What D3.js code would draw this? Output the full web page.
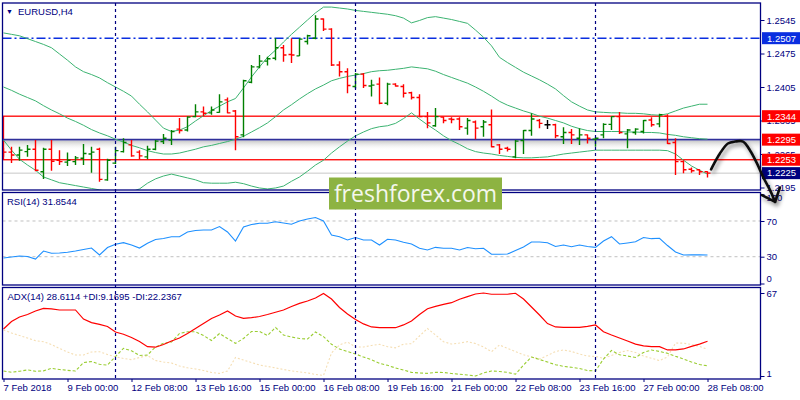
<!DOCTYPE html>
<html>
<head>
<meta charset="utf-8">
<script src="https://cdn.jsdelivr.net/npm/d3@7"></script>
<style>
  body { margin: 0; background: #fff; }
  text { font-family: "Liberation Sans", Arial, sans-serif; }
</style>
</head>
<body>
<div id="chart"></div>
<script>
// ---- data (EURUSD H4, 7 Feb 16:00 .. 28 Feb 08:00) ----
var open = [1.2273,1.2269,1.2263,1.2270,1.2275,1.2228,1.2275,1.2252,1.2248,1.2249,
  1.2256,1.2265,1.2275,1.2211,1.2246,1.2270,1.2284,1.2269,1.2259,1.2275,
  1.2291,1.2294,1.2317,1.2315,1.2343,1.2353,1.2351,1.2352,1.2378,1.2355,
  1.2305,1.2415,1.2447,1.2459,1.2465,1.2487,1.2473,1.2470,1.2500,1.2507,
  1.2547,1.2526,1.2451,1.2437,1.2406,1.2432,1.2407,1.2411,1.2371,1.2411,
  1.2406,1.2393,1.2383,1.2343,1.2324,1.2342,1.2338,1.2338,1.2319,1.2332,
  1.2322,1.2326,1.2284,1.2277,1.2259,1.2293,1.2314,1.2335,1.2326,1.2326,
  1.2301,1.2310,1.2298,1.2305,1.2296,1.2305,1.2327,1.2343,1.2307,1.2310,
  1.2312,1.2336,1.2328,1.2344,1.2289,1.2249,1.2233,1.2232,1.2228];
var high = [1.2278,1.2280,1.2280,1.2284,1.2294,1.2278,1.2294,1.2273,1.2268,1.2261,
  1.2286,1.2280,1.2278,1.2255,1.2280,1.2298,1.2294,1.2273,1.2282,1.2294,
  1.2307,1.2315,1.2340,1.2344,1.2369,1.2364,1.2364,1.2390,1.2383,1.2357,
  1.2420,1.2451,1.2472,1.2468,1.2507,1.2493,1.2507,1.2507,1.2514,1.2555,
  1.2548,1.2528,1.2459,1.2444,1.2434,1.2434,1.2420,1.2425,1.2414,1.2413,
  1.2411,1.2395,1.2390,1.2353,1.2361,1.2343,1.2342,1.2342,1.2340,1.2335,
  1.2336,1.2358,1.2286,1.2280,1.2294,1.2315,1.2350,1.2338,1.2336,1.2328,
  1.2321,1.2317,1.2319,1.2306,1.2300,1.2329,1.2344,1.2353,1.2317,1.2319,
  1.2336,1.2342,1.2349,1.2348,1.2298,1.2252,1.2237,1.2233,1.2229];
var low = [1.2259,1.2246,1.2251,1.2259,1.2229,1.2213,1.2230,1.2242,1.2240,1.2242,
  1.2242,1.2226,1.2207,1.2209,1.2244,1.2268,1.2259,1.2254,1.2254,1.2273,
  1.2286,1.2284,1.2308,1.2312,1.2342,1.2344,1.2347,1.2351,1.2350,1.2273,
  1.2300,1.2413,1.2444,1.2450,1.2461,1.2458,1.2455,1.2470,1.2494,1.2505,
  1.2522,1.2449,1.2427,1.2392,1.2402,1.2403,1.2385,1.2369,1.2367,1.2406,
  1.2383,1.2379,1.2342,1.2319,1.2322,1.2329,1.2329,1.2315,1.2305,1.2296,
  1.2301,1.2279,1.2265,1.2270,1.2256,1.2265,1.2303,1.2319,1.2317,1.2298,
  1.2286,1.2286,1.2284,1.2287,1.2280,1.2298,1.2315,1.2307,1.2277,1.2305,
  1.2308,1.2322,1.2321,1.2286,1.2221,1.2225,1.2226,1.2221,1.2216];
var close = [1.2269,1.2263,1.2273,1.2275,1.2231,1.2275,1.2250,1.2249,1.2252,1.2257,
  1.2266,1.2269,1.2212,1.2252,1.2272,1.2289,1.2261,1.2261,1.2275,1.2292,
  1.2298,1.2312,1.2314,1.2342,1.2353,1.2350,1.2357,1.2374,1.2351,1.2301,
  1.2418,1.2447,1.2459,1.2464,1.2487,1.2472,1.2472,1.2505,1.2512,1.2547,
  1.2526,1.2451,1.2437,1.2408,1.2432,1.2408,1.2409,1.2371,1.2411,1.2407,
  1.2392,1.2383,1.2343,1.2330,1.2343,1.2335,1.2337,1.2322,1.2335,1.2319,
  1.2332,1.2280,1.2275,1.2275,1.2292,1.2314,1.2338,1.2329,1.2326,1.2303,
  1.2310,1.2305,1.2305,1.2298,1.2298,1.2327,1.2343,1.2310,1.2315,1.2317,
  1.2335,1.2326,1.2347,1.2287,1.2249,1.2232,1.2230,1.2228,1.2225];

// Bollinger bands (upper / middle / lower)
var bbUpper = [1.2518,1.2515,1.2512,1.2506,1.2500,1.2494,1.2487,1.2474,1.2461,1.2447,
  1.2437,1.2431,1.2424,1.2414,1.2405,1.2396,1.2386,1.2369,1.2353,1.2336,
  1.2319,1.2312,1.2315,1.2322,1.2334,1.2345,1.2356,1.2365,1.2374,1.2381,
  1.2403,1.2426,1.2447,1.2467,1.2482,1.2499,1.2515,1.2530,1.2545,1.2560,
  1.2572,1.2572,1.2570,1.2568,1.2565,1.2563,1.2561,1.2559,1.2557,1.2554,
  1.2549,1.2539,1.2544,1.2550,1.2552,1.2549,1.2546,1.2542,1.2538,1.2524,
  1.2509,1.2491,1.2467,1.2456,1.2446,1.2436,1.2428,1.2420,1.2411,1.2401,
  1.2387,1.2374,1.2365,1.2357,1.2353,1.2352,1.2351,1.2351,1.2350,1.2350,
  1.2349,1.2347,1.2346,1.2349,1.2355,1.2361,1.2365,1.2369,1.2369];
var bbMiddle = [1.2405,1.2398,1.2390,1.2383,1.2376,1.2366,1.2357,1.2349,1.2340,1.2333,
  1.2325,1.2316,1.2309,1.2303,1.2296,1.2290,1.2283,1.2278,1.2272,1.2268,
  1.2265,1.2265,1.2267,1.2271,1.2275,1.2280,1.2283,1.2287,1.2291,1.2296,
  1.2302,1.2311,1.2320,1.2330,1.2343,1.2357,1.2368,1.2380,1.2391,1.2401,
  1.2409,1.2418,1.2423,1.2427,1.2430,1.2433,1.2437,1.2439,1.2440,1.2442,
  1.2444,1.2447,1.2445,1.2443,1.2438,1.2431,1.2425,1.2419,1.2413,1.2405,
  1.2396,1.2386,1.2375,1.2367,1.2361,1.2355,1.2350,1.2344,1.2340,1.2335,
  1.2330,1.2323,1.2318,1.2314,1.2312,1.2312,1.2312,1.2312,1.2311,1.2311,
  1.2310,1.2310,1.2309,1.2306,1.2304,1.2301,1.2299,1.2297,1.2296];
var bbLower = [1.2294,1.2273,1.2254,1.2242,1.2231,1.2217,1.2211,1.2205,1.2202,1.2199,
  1.2196,1.2193,1.2190,1.2187,1.2184,1.2183,1.2186,1.2192,1.2204,1.2213,
  1.2219,1.2223,1.2219,1.2215,1.2211,1.2205,1.2204,1.2204,1.2204,1.2206,
  1.2203,1.2198,1.2194,1.2192,1.2194,1.2198,1.2208,1.2217,1.2229,1.2242,
  1.2252,1.2267,1.2280,1.2292,1.2303,1.2311,1.2318,1.2322,1.2324,1.2329,
  1.2339,1.2351,1.2338,1.2326,1.2315,1.2303,1.2293,1.2285,1.2276,1.2270,
  1.2267,1.2265,1.2262,1.2260,1.2258,1.2257,1.2257,1.2258,1.2259,1.2262,
  1.2265,1.2267,1.2269,1.2271,1.2273,1.2273,1.2273,1.2273,1.2273,1.2273,
  1.2273,1.2273,1.2273,1.2272,1.2265,1.2252,1.2240,1.2231,1.2223];

// RSI(14)
var rsi = [28.5,29.7,30.8,30.2,27.4,36.4,33.8,34.1,35.0,36.4,
  38.1,39.7,31.9,40.3,43.9,45.7,43.1,39.7,45.0,49.3,
  50.4,52.4,52.4,57.7,59.4,59.9,59.9,63.8,57.7,47.6,
  63.3,66.1,67.4,67.4,69.2,67.8,66.3,70.0,72.2,73.9,
  70.0,54.3,52.4,48.7,51.5,48.7,48.7,43.1,49.5,48.7,
  46.2,44.2,39.5,37.5,40.5,39.4,39.4,37.5,40.3,38.9,
  39.4,32.7,32.7,33.0,37.0,40.9,46.5,46.5,45.7,41.4,
  43.1,41.2,43.1,41.4,40.5,47.6,52.4,44.2,45.4,46.8,
  51.5,50.2,50.6,42.5,35.3,31.9,32.0,32.1,31.85];

// ADX(14), +DI, -DI
var adx = [38.4,44.3,47.9,49.9,52.7,54.8,54.3,53.5,53.5,53.5,
  46.3,43.5,42.1,40.4,36.0,34.2,31.6,28.4,24.3,23.9,
  26.0,28.8,31.2,34.8,38.8,42.7,46.7,49.5,52.7,48.7,
  46.9,47.4,48.3,49.9,51.7,53.5,56.3,58.7,60.6,63.0,
  66.6,62.2,55.5,50.3,45.9,42.4,40.0,39.4,39.4,39.4,
  41.6,44.7,49.9,54.5,56.4,57.9,59.3,62.0,64.1,66.2,
  67.0,66.0,66.0,66.0,66.8,62.2,55.9,49.5,42.7,40.0,
  39.7,39.7,39.7,40.4,41.6,36.2,33.6,31.2,28.8,26.4,
  24.9,24.3,24.3,21.7,21.7,22.5,24.5,26.4,28.61];
var plusDI = [5.0,4.0,4.8,5.8,4.8,5.1,7.1,6.2,5.5,5.0,
  11.7,12.5,10.3,9.7,16.5,23.0,21.0,17.3,17.7,24.1,
  27.0,28.0,34.8,36.2,36.2,33.2,29.2,34.8,30.8,27.0,
  30.8,36.4,36.4,33.2,39.6,33.6,32.0,30.8,30.4,36.0,
  32.3,26.2,22.5,20.5,18.5,16.1,14.0,11.1,9.5,7.4,
  5.8,3.9,3.4,3.1,3.9,3.8,3.0,2.4,1.8,1.0,
  3.4,5.0,4.6,3.9,2.4,9.7,16.1,14.1,12.1,10.0,
  8.7,7.9,7.0,5.4,5.0,14.5,21.3,17.9,16.9,15.7,
  19.7,21.7,20.5,19.1,16.7,14.5,12.1,10.1,9.17];
var minusDI = [37.6,35.2,33.2,31.2,29.1,28.3,26.0,22.9,20.1,17.7,
  17.7,20.1,20.3,18.1,16.3,14.9,14.0,15.7,17.3,13.3,
  12.1,11.3,9.0,7.5,6.6,5.4,3.8,3.1,5.0,15.7,
  13.7,11.7,9.7,8.6,7.4,6.2,5.0,4.2,3.5,2.2,
  1.4,19.3,25.7,28.0,24.1,24.1,25.3,26.2,24.3,23.4,
  26.3,26.7,32.8,38.8,33.6,28.3,26.4,27.2,28.3,26.8,
  24.1,20.3,25.7,23.0,20.5,17.9,16.1,14.5,17.3,20.5,
  21.7,20.5,18.5,16.9,16.5,15.1,17.3,19.7,21.3,19.7,
  16.9,15.1,13.3,16.1,27.2,27.1,26.0,24.5,22.24];

// axis ticks and labels
var timeIdx = [0,8,16,24,32,40,48,56,64,72,80,88];
var timeLabels = ["7 Feb 2018","9 Feb 00:00","12 Feb 08:00","13 Feb 16:00","15 Feb 00:00",
  "16 Feb 08:00","19 Feb 16:00","21 Feb 00:00","22 Feb 08:00","23 Feb 16:00",
  "27 Feb 00:00","28 Feb 08:00"];
var weekIdx = [14,44,74];
var priceTicks = [1.2545,1.2475,1.2405,1.2335,1.2265,1.2195];
var rsiTicks = [100,70,30,0];
var rsiLevels = [70,30];
var adxTicks = [67,1];

// drawn objects
var zoneTop = 1.2344, zoneBottom = 1.2253;
var pivotLine = 1.2295;
var dashLine = 1.2507;
var bidPrice = 1.2225;
var markPrices = [1.2507,1.2344,1.2295,1.2253,1.2225];
var arrowIdx   = [88.45,89.55,90.55,91.45,92.45,93.3,94.2,94.95,95.8,96.45];
var arrowPrice = [1.2233,1.2266,1.2287,1.2291,1.2291,1.2273,1.2245,1.2217,1.2190,1.2165];
var headIdx   = [94.8,96.45,97.05];
var headPrice = [1.2179,1.2165,1.2195];

// ---- layout ----
var W = 800, H = 400;
var left = 2.5, right = 760.5;
var panes = {
  main: {top: 3, bottom: 190},
  rsi:  {top: 192.5, bottom: 285},
  adx:  {top: 287.5, bottom: 379}
};
var navy = "#000080", bull = "#008000", bear = "#ff0000", band = "#3cb371";

var svg = d3.select("#chart").append("svg")
  .attr("width", W).attr("height", H)
  .style("display", "block");
svg.append("rect").attr("width", W).attr("height", H).attr("fill", "#fff");

var defs = svg.append("defs");
Object.keys(panes).forEach(function(k) {
  var p = panes[k];
  defs.append("clipPath").attr("id", "clip-" + k)
    .append("rect").attr("x", left).attr("y", p.top)
    .attr("width", right - left).attr("height", p.bottom - p.top);
});
var grad = defs.append("linearGradient").attr("id", "shade")
  .attr("x1", 0).attr("y1", 0).attr("x2", 0).attr("y2", 1);
grad.append("stop").attr("offset", "0%").attr("stop-color", "#9a9a9a").attr("stop-opacity", 0.55);
grad.append("stop").attr("offset", "100%").attr("stop-color", "#ffffff").attr("stop-opacity", 0);
var shadow = defs.append("filter").attr("id", "dropshadow")
  .attr("x", "-50%").attr("y", "-50%").attr("width", "200%").attr("height", "200%");
shadow.append("feDropShadow").attr("dx", 2).attr("dy", 3)
  .attr("stdDeviation", 2).attr("flood-color", "#000").attr("flood-opacity", 0.45);

// scales
var x = d3.scaleLinear().domain([0, 88]).range([3.5, 707.5]);
var yP = d3.scaleLinear().domain([1.2195, 1.2545]).range([187.5, 20]);
var yR = d3.scaleLinear().domain([0, 100]).range([283.5, 194.2]);
var yA = d3.scaleLinear().domain([1, 67]).range([376, 293]);

var main = svg.append("g").attr("clip-path", "url(#clip-main)");
var rsiG = svg.append("g").attr("clip-path", "url(#clip-rsi)");
var adxG = svg.append("g").attr("clip-path", "url(#clip-adx)");

// week separators
svg.append("g").selectAll("line").data(weekIdx).enter().append("line")
  .attr("x1", function(d) { return x(d); }).attr("x2", function(d) { return x(d); })
  .attr("y1", panes.main.top).attr("y2", panes.adx.bottom)
  .attr("stroke", navy).attr("stroke-width", 1.2).attr("stroke-dasharray", "3,3");

// objects on the price pane
main.append("rect")
  .attr("x", 3.5).attr("y", yP(pivotLine) + 1)
  .attr("width", right - 3.5).attr("height", 10)
  .attr("fill", "url(#shade)");
main.append("line")
  .attr("x1", left).attr("x2", right).attr("y1", yP(bidPrice)).attr("y2", yP(bidPrice))
  .attr("stroke", "#c8c8c8").attr("stroke-width", 1);
main.append("rect")
  .attr("x", 3.5).attr("y", yP(zoneTop))
  .attr("width", right + 10).attr("height", yP(zoneBottom) - yP(zoneTop))
  .attr("fill", "none").attr("stroke", bear).attr("stroke-width", 1.3);
main.append("line")
  .attr("x1", left).attr("x2", right).attr("y1", yP(pivotLine)).attr("y2", yP(pivotLine))
  .attr("stroke", "#30309a").attr("stroke-width", 1.8);
main.append("line")
  .attr("x1", left).attr("x2", right).attr("y1", yP(dashLine)).attr("y2", yP(dashLine))
  .attr("stroke", "#0a2ee0").attr("stroke-width", 1.5).attr("stroke-dasharray", "9,3,2,3");

// Bollinger bands
[bbUpper, bbMiddle, bbLower].forEach(function(arr) {
  main.append("path")
    .attr("d", d3.line().x(function(d, i) { return x(i); }).y(function(d) { return yP(d); })(arr))
    .attr("fill", "none").attr("stroke", band).attr("stroke-width", 1);
});

// OHLC bars
var bars = main.selectAll(".bar").data(d3.range(open.length)).enter().append("g")
  .attr("class", "bar")
  .attr("stroke", function(i) { return close[i] > open[i] ? bull : (close[i] < open[i] ? bear : "#000"); })
  .attr("stroke-width", 1.4);
bars.append("line")
  .attr("x1", function(i) { return x(i); }).attr("x2", function(i) { return x(i); })
  .attr("y1", function(i) { return yP(high[i]); }).attr("y2", function(i) { return yP(low[i]); });
bars.append("line")
  .attr("x1", function(i) { return x(i) - 3; }).attr("x2", function(i) { return x(i); })
  .attr("y1", function(i) { return yP(open[i]); }).attr("y2", function(i) { return yP(open[i]); });
bars.append("line")
  .attr("x1", function(i) { return x(i); }).attr("x2", function(i) { return x(i) + 3; })
  .attr("y1", function(i) { return yP(close[i]); }).attr("y2", function(i) { return yP(close[i]); });

// RSI pane
rsiG.selectAll(".lvl").data(rsiLevels).enter().append("line")
  .attr("x1", left).attr("x2", right)
  .attr("y1", function(d) { return yR(d); }).attr("y2", function(d) { return yR(d); })
  .attr("stroke", "#c0c0c0").attr("stroke-dasharray", "3,3");
rsiG.append("path")
  .attr("d", d3.line().x(function(d, i) { return x(i); }).y(function(d) { return yR(d); })(rsi))
  .attr("fill", "none").attr("stroke", "#1e90ff").attr("stroke-width", 1.1);

// ADX pane
adxG.append("path")
  .attr("d", d3.line().x(function(d, i) { return x(i); }).y(function(d) { return yA(d); })(minusDI))
  .attr("fill", "none").attr("stroke", "#f5deb3").attr("stroke-width", 1.1).attr("stroke-dasharray", "2,2");
adxG.append("path")
  .attr("d", d3.line().x(function(d, i) { return x(i); }).y(function(d) { return yA(d); })(plusDI))
  .attr("fill", "none").attr("stroke", "#9acd32").attr("stroke-width", 1.1).attr("stroke-dasharray", "3,2");
adxG.append("path")
  .attr("d", d3.line().x(function(d, i) { return x(i); }).y(function(d) { return yA(d); })(adx))
  .attr("fill", "none").attr("stroke", "#ff0000").attr("stroke-width", 1.2);

// pane frames
Object.keys(panes).forEach(function(k) {
  var p = panes[k];
  svg.append("rect").attr("x", left).attr("y", p.top)
    .attr("width", right - left).attr("height", p.bottom - p.top)
    .attr("fill", "none").attr("stroke", navy).attr("stroke-width", 1.3);
});

// axes
function styleAxis(g) {
  g.select(".domain").remove();
  g.selectAll("line").attr("stroke", navy);
  g.selectAll("text").attr("fill", navy)
    .style("font-family", '"Liberation Sans", Arial, sans-serif').style("font-size", "9.5px");
}
svg.append("g").attr("transform", "translate(" + right + ",0)")
  .call(d3.axisRight(yP).tickValues(priceTicks).tickFormat(d3.format(".4f")).tickSize(4).tickPadding(2))
  .call(styleAxis);
svg.append("g").attr("transform", "translate(" + right + ",0)")
  .call(d3.axisRight(yR).tickValues(rsiTicks).tickSize(4).tickPadding(2))
  .call(styleAxis)
  .selectAll("text").attr("dy", function(d) { return d === 0 ? "-0.18em" : (d === 100 ? "0.7em" : "0.32em"); });
svg.append("g").attr("transform", "translate(" + right + ",0)")
  .call(d3.axisRight(yA).tickValues(adxTicks).tickSize(4).tickPadding(2))
  .call(styleAxis)
  .selectAll("text").attr("dy", function(d) { return d === 1 ? "0" : "0.4em"; });
svg.append("g").attr("transform", "translate(0," + panes.adx.bottom + ")")
  .call(d3.axisBottom(x).tickValues(timeIdx).tickFormat(function(d, i) { return timeLabels[i]; })
    .tickSize(3).tickPadding(2))
  .call(styleAxis)
  .selectAll("text").attr("text-anchor", "start").attr("x", -0.5);

// price marks on the axis
var markFill = ["#0a2ee0", bear, bear, bear, navy];
var marks = svg.append("g").selectAll("g").data(markPrices).enter().append("g")
  .attr("transform", function(d) { return "translate(" + (right + 1.5) + "," + yP(d) + ")"; });
marks.append("rect").attr("x", 0).attr("y", -6).attr("width", 40).attr("height", 12)
  .attr("fill", function(d, i) { return markFill[i]; });
marks.append("text").attr("x", 5).attr("dy", "0.35em").attr("fill", "#fff")
  .style("font-size", "9.5px").text(function(d) { return d3.format(".4f")(d); });

// titles
svg.append("text").attr("x", 6).attr("y", 13.5).attr("fill", navy)
  .style("font-size", "7px").text("\u25BC");
svg.append("text").attr("x", 18).attr("y", 14.5).attr("fill", navy)
  .style("font-size", "9.5px").text("EURUSD,H4");
svg.append("text").attr("x", 7).attr("y", 205).attr("fill", navy)
  .style("font-size", "9.5px").text("RSI(14) " + d3.format(".4f")(31.8544));
svg.append("text").attr("x", 7.5).attr("y", 299.5).attr("fill", navy)
  .style("font-size", "9.5px").text("ADX(14) 28.6114 +DI:9.1695 -DI:22.2367");

// watermark
var wm = svg.append("g");
wm.append("rect").attr("x", 329).attr("y", 177.5).attr("width", 173).attr("height", 32)
  .attr("fill", "#8db342");
wm.append("text").attr("x", 415.5).attr("y", 201.5).attr("text-anchor", "middle")
  .attr("fill", "#f4f7ec").style("font-family", '"Open Sans", "Noto Sans", sans-serif')
  .style("font-size", "23px").text("freshforex.com");

// hand-drawn arrow
var arrowPts = arrowIdx.map(function(d, i) { return [x(d), yP(arrowPrice[i])]; });
var headPts = headIdx.map(function(d, i) { return [x(d), yP(headPrice[i])]; });
var arrow = svg.append("g").attr("filter", "url(#dropshadow)")
  .attr("fill", "none").attr("stroke", "#111").attr("stroke-width", 2.6)
  .attr("stroke-linecap", "round").attr("stroke-linejoin", "round");
arrow.append("path").attr("d", d3.line().curve(d3.curveCatmullRom)(arrowPts));
arrow.append("path").attr("d", d3.line()(headPts));
</script>
</body>
</html>
